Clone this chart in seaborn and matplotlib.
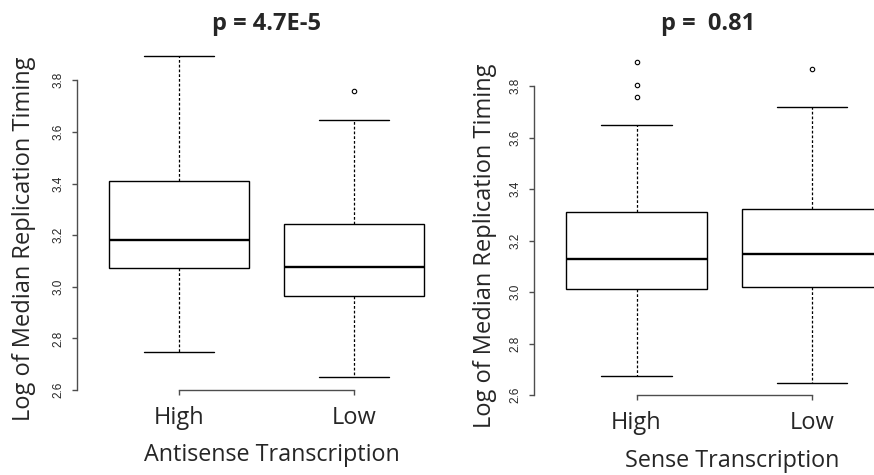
import matplotlib
matplotlib.use("Agg")
import matplotlib.pyplot as plt
import pandas as pd
import seaborn as sns

# groups on the x axis
GROUPS = ["High", "Low"]

# antisense panel: five-number summaries
ANTI_WHISLO = [2.747, 2.649]
ANTI_Q1 = [3.073, 2.964]
ANTI_MED = [3.182, 3.077]
ANTI_Q3 = [3.410, 3.242]
ANTI_WHISHI = [3.893, 3.647]
ANTI_FLIER_GROUP = ["Low"]
ANTI_FLIERS = [3.759]

# sense panel
SENSE_WHISLO = [2.675, 2.649]
SENSE_Q1 = [3.012, 3.019]
SENSE_MED = [3.129, 3.147]
SENSE_Q3 = [3.310, 3.322]
SENSE_WHISHI = [3.647, 3.719]
SENSE_FLIER_GROUP = ["High", "High", "High", "Low"]
SENSE_FLIERS = [3.894, 3.805, 3.758, 3.865]

YTICKS = [2.6, 2.8, 3.0, 3.2, 3.4, 3.6, 3.8]
YLABEL = "Log of Median Replication Timing"

W, H = 874, 475
AXIS_GREY = "#4d4d4d"
LABEL_FONT = ["Open Sans", "DejaVu Sans"]


def summary_frame(whislo, q1, med, q3, whishi):
    # five points per group give exactly these quartiles and whisker ends
    rows = []
    for i, g in enumerate(GROUPS):
        for v in (whislo[i], q1[i], med[i], q3[i], whishi[i]):
            rows.append({"group": g, "value": v})
    return pd.DataFrame(rows)


def px_axes(fig, left, right, top, bottom):
    return fig.add_axes([left / W, 1 - bottom / H, (right - left) / W, (bottom - top) / H])


def draw_panel(ax, box_df, flier_df, ylim_top):
    sns.boxplot(
        data=box_df, x="group", y="value", order=GROUPS, ax=ax,
        color="white", linecolor="black", linewidth=1.0, width=0.8,
        showfliers=False,
        whiskerprops={"linestyle": (0, (2.2, 1.6)), "linewidth": 0.9},
        medianprops={"linewidth": 1.7},
    )
    sns.stripplot(
        data=flier_df, x="group", y="value", order=GROUPS, ax=ax,
        jitter=False, color="white", edgecolor="black", linewidth=0.8, size=3.2,
    )
    ax.set_xlim(-0.582, 1.5)
    ax.set_ylim(2.6, ylim_top)
    ax.set_xlabel("")
    ax.set_ylabel("")
    sns.despine(ax=ax)
    ax.spines["left"].set_bounds(YTICKS[0], YTICKS[-1])
    ax.spines["bottom"].set_bounds(0, 1)
    for s in ("left", "bottom"):
        ax.spines[s].set_color(AXIS_GREY)
        ax.spines[s].set_linewidth(1.0)
    ax.set_yticks(YTICKS)
    ax.set_yticklabels([f"{t:.1f}" for t in YTICKS], rotation=90, va="center",
                       fontsize=8.5, family="Liberation Sans")
    ax.tick_params(axis="both", left=True, bottom=True, direction="out",
                   length=3.6, width=1.0, color=AXIS_GREY)
    ax.tick_params(axis="y", pad=5.5)
    ax.tick_params(axis="x", pad=8)
    for lab in ax.get_xticklabels():
        lab.set_fontsize(17)
        lab.set_family(LABEL_FONT)
    ax.patch.set_alpha(0)


sns.set_style("white")
fig = plt.figure(figsize=(W / 100, H / 100), dpi=100)

ax1 = px_axes(fig, 76.7, 441.7, 43.4, 390.0)
draw_panel(ax1,
           summary_frame(ANTI_WHISLO, ANTI_Q1, ANTI_MED, ANTI_Q3, ANTI_WHISHI),
           pd.DataFrame({"group": ANTI_FLIER_GROUP, "value": ANTI_FLIERS}),
           3.943)

ax2 = px_axes(fig, 534.3, 900.0, 48.9, 395.3)
draw_panel(ax2,
           summary_frame(SENSE_WHISLO, SENSE_Q1, SENSE_MED, SENSE_Q3, SENSE_WHISHI),
           pd.DataFrame({"group": SENSE_FLIER_GROUP, "value": SENSE_FLIERS}),
           3.944)

# titles and axis labels placed at pixel centres
def ptext(x, y, s, **kw):
    fig.text(x / W, 1 - y / H, s, ha="center", va="center", family=LABEL_FONT, **kw)

ptext(267, 24, "p = 4.7E-5", fontsize=17, fontweight="bold")
ptext(708, 24, "p =  0.81", fontsize=17, fontweight="bold")
ptext(24, 239, YLABEL, fontsize=17, rotation=90)
ptext(485.5, 246, YLABEL, fontsize=17, rotation=90)
ptext(272, 455, "Antisense Transcription", fontsize=16.8)
ptext(732, 461, "Sense Transcription", fontsize=16.8)

fig.savefig("out.png", dpi=100)
